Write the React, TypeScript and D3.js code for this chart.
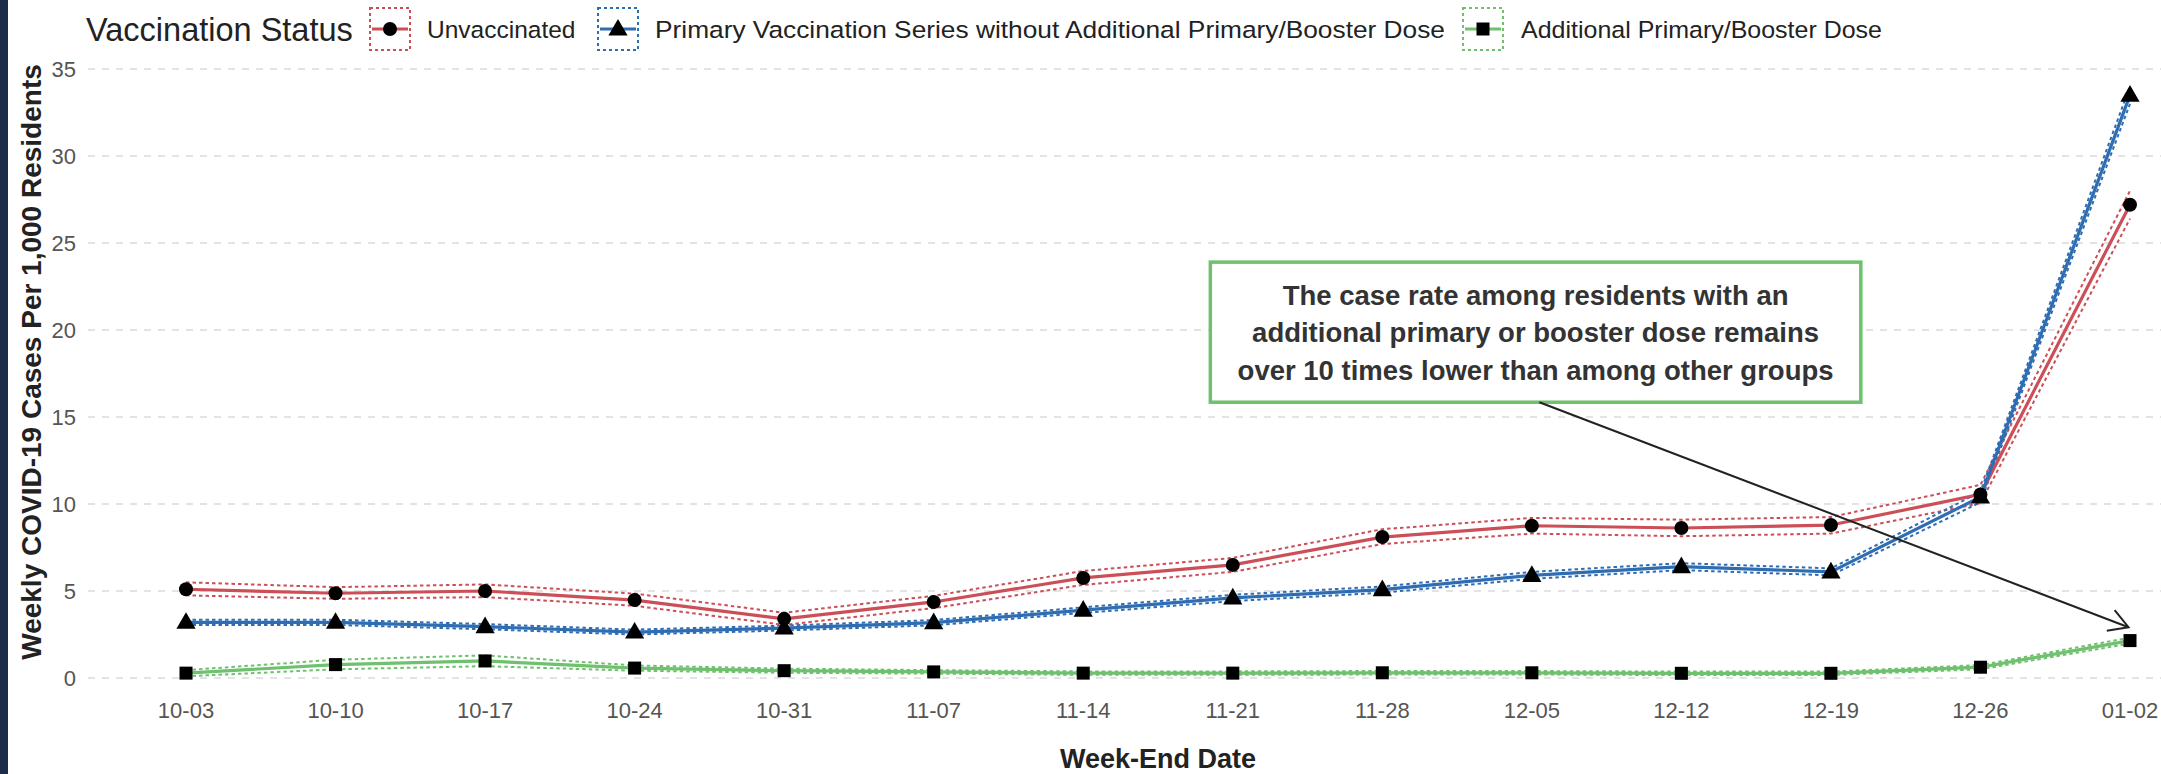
import React from "react";
import * as d3 from "d3";

const weeks = ["10-03", "10-10", "10-17", "10-24", "10-31", "11-07", "11-14", "11-21", "11-28", "12-05", "12-12", "12-19", "12-26", "01-02"];

const unvaccinated = [5.1, 4.87, 5.0, 4.48, 3.4, 4.37, 5.75, 6.5, 8.1, 8.75, 8.62, 8.79, 10.55, 27.2];
const unvaccinatedLower = [4.75, 4.55, 4.65, 4.15, 3.05, 4.02, 5.35, 6.1, 7.7, 8.3, 8.15, 8.3, 10.05, 26.4];
const unvaccinatedUpper = [5.5, 5.22, 5.38, 4.85, 3.75, 4.72, 6.15, 6.9, 8.55, 9.2, 9.1, 9.25, 11.1, 28.0];

const primary = [3.2, 3.2, 2.95, 2.64, 2.87, 3.18, 3.9, 4.6, 5.08, 5.9, 6.4, 6.1, 10.4, 33.5];
const primaryLower = [3.05, 3.05, 2.8, 2.5, 2.73, 3.03, 3.74, 4.42, 4.9, 5.7, 6.2, 5.9, 10.1, 33.0];
const primaryUpper = [3.35, 3.35, 3.1, 2.78, 3.01, 3.33, 4.06, 4.78, 5.26, 6.1, 6.6, 6.3, 10.7, 34.0];

const booster = [0.28, 0.77, 0.98, 0.57, 0.42, 0.35, 0.28, 0.28, 0.3, 0.3, 0.27, 0.27, 0.62, 2.15];
const boosterLower = [0.1, 0.5, 0.68, 0.42, 0.3, 0.25, 0.18, 0.18, 0.2, 0.2, 0.17, 0.17, 0.5, 1.98];
const boosterUpper = [0.45, 1.05, 1.3, 0.72, 0.54, 0.45, 0.38, 0.38, 0.4, 0.4, 0.37, 0.37, 0.74, 2.32];

const yTicks = [0, 5, 10, 15, 20, 25, 30, 35];

const legendTitle = "Vaccination Status";
const seriesNames = [
  "Unvaccinated",
  "Primary Vaccination Series without Additional Primary/Booster Dose",
  "Additional Primary/Booster Dose",
];
const seriesColors = ["#cc4f57", "#2f6db3", "#6fc06f"];
const seriesShapes = ["circle", "triangle", "square"];

const annotationLines = [
  "The case rate among residents with an",
  "additional primary or booster dose remains",
  "over 10 times lower than among other groups",
];
// annotation box (data coordinates: x as week index, y as rate)
const annotationBox = { x0: 6.85, x1: 11.2, y0: 15.85, y1: 23.9 };
const arrowFrom = { i: 9.05, v: 15.85 };
const arrowTo = { i: 12.99, v: 2.92 };

const xTitle = "Week-End Date";
const yTitle = "Weekly COVID-19 Cases Per 1,000 Residents";

const FONT = "'Liberation Sans', Arial, Helvetica, sans-serif";

function Marker({ shape, x, y, s = 1 }: { shape: string; x: number; y: number; s?: number }) {
  if (shape === "circle") return <circle cx={x} cy={y} r={7 * s} fill="#000" />;
  if (shape === "square")
    return <rect x={x - 6.5 * s} y={y - 6.5 * s} width={13 * s} height={13 * s} fill="#000" />;
  const p = d3.symbol().type(d3.symbolTriangle).size(160 * s * s)();
  return <path d={p || ""} transform={`translate(${x},${y + 1})`} fill="#000" />;
}

export default function App() {
  const W = 2161;
  const H = 774;
  const x = d3.scalePoint<string>().domain(weeks).range([186, 2130]);
  const step = x.step();
  const xi = (i: number) => (x(weeks[0]) as number) + i * step;
  const y = d3.scaleLinear().domain([0, 35]).range([678, 69]);

  const line = d3
    .line<number>()
    .x((_, i) => x(weeks[i]) as number)
    .y((d) => y(d));

  const series = [
    { vals: unvaccinated, lo: unvaccinatedLower, hi: unvaccinatedUpper },
    { vals: primary, lo: primaryLower, hi: primaryUpper },
    { vals: booster, lo: boosterLower, hi: boosterUpper },
  ];

  const gridLeft = 88;

  // arrow
  const ax0 = xi(arrowFrom.i), ay0 = y(arrowFrom.v);
  const ax1 = xi(arrowTo.i), ay1 = y(arrowTo.v);
  const ang = Math.atan2(ay1 - ay0, ax1 - ax0);
  const hl = 22, ha = Math.PI / 6;
  const h1 = [ax1 - hl * Math.cos(ang - ha), ay1 - hl * Math.sin(ang - ha)];
  const h2 = [ax1 - hl * Math.cos(ang + ha), ay1 - hl * Math.sin(ang + ha)];

  const bx0 = xi(annotationBox.x0), bx1 = xi(annotationBox.x1);
  const by0 = y(annotationBox.y1), by1 = y(annotationBox.y0);
  const bcx = (bx0 + bx1) / 2;
  const bcy = (by0 + by1) / 2;

  // legend layout
  const legendY = 29;
  const keyW = 40, keyH = 42;
  const legendItems = [
    { keyX: 370, textX: 427, len: 0 },
    { keyX: 598, textX: 655, len: 790 },
    { keyX: 1463, textX: 1521, len: 361 },
  ];

  return (
    <div style={{ position: "absolute", left: 0, top: 0, width: W, height: H, overflow: "hidden", background: "#fff" }}>
      <svg width={W} height={H} style={{ display: "block", fontFamily: FONT }}>
        <rect x={0} y={0} width={W} height={H} fill="#fff" />
        {/* grid */}
        {yTicks.map((t) => (
          <line key={t} x1={gridLeft} x2={W} y1={y(t)} y2={y(t)} stroke="#dadada" strokeWidth={1.6} strokeDasharray="7,7" />
        ))}
        {/* y tick labels */}
        {yTicks.map((t) => (
          <text key={t} x={76} y={y(t)} dy="0.36em" textAnchor="end" fontSize={22} fill="#555">
            {t}
          </text>
        ))}
        {/* x tick labels */}
        {weeks.map((w) => (
          <text key={w} x={x(w) as number} y={710} dy="0.36em" textAnchor="middle" fontSize={22} fill="#555">
            {w}
          </text>
        ))}
        {/* CIs */}
        {series.map((s, k) => (
          <g key={"ci" + k}>
            <path d={line(s.lo) || ""} fill="none" stroke={seriesColors[k]} strokeWidth={2} strokeDasharray="3.5,3" />
            <path d={line(s.hi) || ""} fill="none" stroke={seriesColors[k]} strokeWidth={2} strokeDasharray="3.5,3" />
          </g>
        ))}
        {/* main lines */}
        {series.map((s, k) => (
          <path key={"l" + k} d={line(s.vals) || ""} fill="none" stroke={seriesColors[k]} strokeWidth={3.2} strokeLinejoin="round" />
        ))}
        {/* markers */}
        {series.map((s, k) =>
          s.vals.map((v, i) => <Marker key={k + "-" + i} shape={seriesShapes[k]} x={x(weeks[i]) as number} y={y(v)} />)
        )}
        {/* annotation box */}
        <rect x={bx0} y={by0} width={bx1 - bx0} height={by1 - by0} fill="#fff" stroke="#6fc06f" strokeWidth={3.5} />
        {annotationLines.map((l, i) => (
          <text
            key={i}
            x={bcx}
            y={bcy + (i - 1) * 37.5}
            dy="0.36em"
            textAnchor="middle"
            fontSize={27.5}
            fontWeight="bold"
            fill="#333"
          >
            {l}
          </text>
        ))}
        {/* arrow */}
        <line x1={ax0} y1={ay0} x2={ax1} y2={ay1} stroke="#222" strokeWidth={2} />
        <polyline points={`${h1[0]},${h1[1]} ${ax1},${ay1} ${h2[0]},${h2[1]}`} fill="none" stroke="#222" strokeWidth={2} />
        {/* axis titles */}
        <text x={1158} y={758} dy="0.36em" textAnchor="middle" fontSize={27} fontWeight="bold" fill="#222">
          {xTitle}
        </text>
        <text
          transform={`translate(31,362) rotate(-90)`}
          dy="0.36em"
          textAnchor="middle"
          fontSize={28}
          fontWeight="bold"
          fill="#222"
        >
          {yTitle}
        </text>
        {/* legend */}
        <text x={86} y={legendY} dy="0.36em" fontSize={32.5} fill="#222">
          {legendTitle}
        </text>
        {legendItems.map((it, k) => (
          <g key={"lg" + k}>
            <rect
              x={it.keyX}
              y={legendY - keyH / 2}
              width={keyW}
              height={keyH}
              fill="#fff"
              stroke={seriesColors[k]}
              strokeWidth={2}
              strokeDasharray="3,3"
            />
            <line x1={it.keyX + 2} x2={it.keyX + keyW - 2} y1={legendY} y2={legendY} stroke={seriesColors[k]} strokeWidth={3} />
            <Marker shape={seriesShapes[k]} x={it.keyX + keyW / 2} y={legendY} />
            <text
              x={it.textX}
              y={legendY}
              dy="0.36em"
              fontSize={24.5}
              fill="#222"
              {...(it.len ? { textLength: it.len, lengthAdjust: "spacingAndGlyphs" } : {})}
            >
              {seriesNames[k]}
            </text>
          </g>
        ))}
        {/* left frame */}
        <rect x={0} y={0} width={8} height={H} fill="#1c2c4a" />
      </svg>
    </div>
  );
}
